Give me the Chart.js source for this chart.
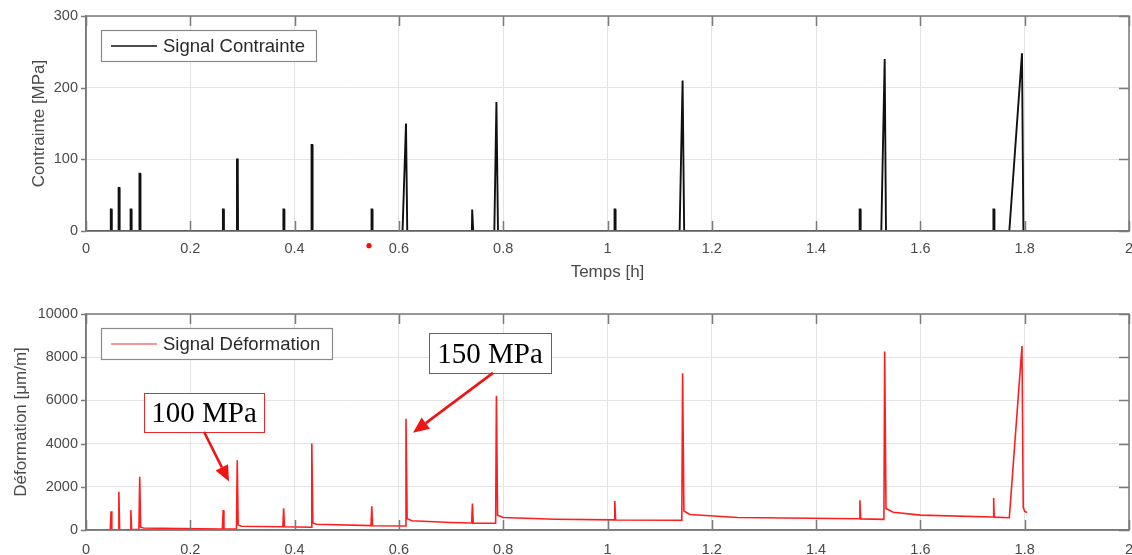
<!DOCTYPE html>
<html>
<head>
<meta charset="utf-8">
<script src="https://cdn.jsdelivr.net/npm/chart.js@4.4.1/dist/chart.umd.min.js"></script>
<style>
  html, body { margin:0; padding:0; background:#fff; }
  #wrap { position:relative; width:1132px; height:555px; overflow:hidden; background:#fff; }
  #c1 { position:absolute; left:0; top:0; }
  #c2 { position:absolute; left:0; top:290px; }
</style>
</head>
<body>
<div id="wrap">
  <canvas id="c1" width="1132" height="290"></canvas>
  <canvas id="c2" width="1132" height="265"></canvas>
</div>
<script>
// ---------- DATA ----------
const xTicks = [0, 0.2, 0.4, 0.6, 0.8, 1, 1.2, 1.4, 1.6, 1.8, 2];
const stressTicks = [0, 100, 200, 300];
const strainTicks = [0, 2000, 4000, 6000, 8000, 10000];

// Stress signal (top) – polyline vertices [h] / [MPa]
const stressTime = [
  0, 0.047, 0.0475, 0.049, 0.0495,
  0.062, 0.0625, 0.064, 0.0645,
  0.085, 0.0855, 0.087, 0.0875,
  0.102, 0.1025, 0.104, 0.1045,
  0.262, 0.2625, 0.264, 0.2645,
  0.289, 0.2895, 0.291, 0.2915,
  0.378, 0.3785, 0.380, 0.3805,
  0.432, 0.4325, 0.434, 0.4345,
  0.547, 0.5475, 0.549, 0.5495,
  0.607, 0.6136, 0.616,
  0.740, 0.7405, 0.742, 0.7425,
  0.783, 0.787, 0.790,
  1.013, 1.0135, 1.015, 1.0155,
  1.1383, 1.144, 1.147,
  1.483, 1.4835, 1.485, 1.4855,
  1.525, 1.5315, 1.534,
  1.7395, 1.740, 1.7415, 1.742,
  1.7705, 1.7948, 1.7975, 1.805
];
const stressValue = [
  0, 0, 30, 30, 0,
  0, 60, 60, 0,
  0, 30, 30, 0,
  0, 80, 80, 0,
  0, 30, 30, 0,
  0, 100, 100, 0,
  0, 30, 30, 0,
  0, 120, 120, 0,
  0, 30, 30, 0,
  0, 150, 0,
  0, 30, 30, 0,
  0, 180, 0,
  0, 30, 30, 0,
  0, 210, 0,
  0, 30, 30, 0,
  0, 240, 0,
  0, 30, 30, 0,
  0, 248, 0, 0
];

// Strain signal (bottom) – polyline vertices [h] / [µm/m]
const strainTime = [
  0, 0.0465, 0.048, 0.0495,
  0.0615, 0.063, 0.0645,
  0.0845, 0.086, 0.0875,
  0.1015, 0.103, 0.1048, 0.110, 0.180,
  0.2615, 0.263, 0.2645,
  0.2885, 0.290, 0.2918, 0.298,
  0.3775, 0.379, 0.3805,
  0.4315, 0.433, 0.435, 0.442,
  0.5465, 0.548, 0.5495,
  0.612, 0.6136, 0.6158, 0.625, 0.700,
  0.7395, 0.741, 0.7425,
  0.7855, 0.787, 0.7892, 0.800, 0.900,
  1.0125, 1.014, 1.0155,
  1.1425, 1.144, 1.1465, 1.158, 1.250,
  1.4825, 1.484, 1.4855,
  1.530, 1.5315, 1.534, 1.548, 1.600,
  1.7395, 1.7405, 1.7415,
  1.7705, 1.7948, 1.7972, 1.800, 1.8045
];
const strainValue = [
  0, 0, 870, 10,
  10, 1770, 15,
  15, 920, 20,
  20, 2460, 130, 90, 65,
  45, 920, 45,
  45, 3230, 230, 175,
  150, 1000, 150,
  125, 4000, 330, 265,
  205, 1100, 200,
  185, 5150, 520, 430, 350,
  325, 1230, 320,
  310, 6215, 680, 580, 500,
  470, 1340, 465,
  450, 7260, 880, 720, 580,
  520, 1380, 515,
  490, 8260, 1000, 820, 690,
  600, 1480, 595,
  570, 8520, 1050, 860, 810
];

// stray red marker under the top axis
const markerTime = [0.5427];
const markerValue = [-20.5];

// legend / annotation texts
const stressLabel = 'Signal Contrainte';
const strainLabel = 'Signal Déformation';
const annotationLabels = ['100 MPa', '150 MPa'];

// ---------- HELPERS ----------
const toXY = (xs, ys) => xs.map((x, i) => ({x: x, y: ys[i]}));
const fmtX = v => String(Math.round(v * 10) / 10);
const TICK_FONT = {family: '"Liberation Sans", Arial, sans-serif', size: 14.5};
const TITLE_FONT = {family: '"Liberation Sans", Arial, sans-serif', size: 17};
const TEXT_COL = '#4a4a4a';
const GRID_COL = '#e4e4e4';
const AXIS_COL = '#7a7a7a';

const framePlugin = {
  id: 'frame',
  afterDraw(chart) {
    const {ctx, chartArea: a, scales: {x, y}} = chart;
    ctx.save();
    ctx.strokeStyle = AXIS_COL;
    ctx.lineWidth = 1.5;
    ctx.strokeRect(a.left, a.top, a.right - a.left, a.bottom - a.top);
    ctx.beginPath();
    x.ticks.forEach(t => {
      const px = Math.round(x.getPixelForValue(t.value)) + 0.5;
      ctx.moveTo(px, a.bottom); ctx.lineTo(px, a.bottom - 10);
      ctx.moveTo(px, a.top); ctx.lineTo(px, a.top + 10);
    });
    y.ticks.forEach(t => {
      const py = Math.round(y.getPixelForValue(t.value)) + 0.5;
      ctx.moveTo(a.left - 5, py); ctx.lineTo(a.left, py);
      ctx.moveTo(a.right, py); ctx.lineTo(a.right - 10, py);
    });
    ctx.stroke();
    ctx.restore();
  }
};

const markerPlugin = {
  id: 'marker',
  afterDraw(chart, args, opts) {
    if (!opts.xs) return;
    const {ctx, scales: {x, y}} = chart;
    ctx.save();
    ctx.fillStyle = '#f01010';
    opts.xs.forEach((v, i) => {
      ctx.beginPath();
      ctx.arc(x.getPixelForValue(v), y.getPixelForValue(opts.ys[i]), 2.6, 0, Math.PI * 2);
      ctx.fill();
    });
    ctx.restore();
  }
};

const boxLegendPlugin = {
  id: 'boxLegend',
  afterDraw(chart, args, opts) {
    const {ctx, chartArea: a} = chart;
    const l = a.left + 15, t = a.top + 14, w = opts.width, h = 31;
    ctx.save();
    ctx.fillStyle = '#fff';
    ctx.fillRect(l, t, w, h);
    ctx.strokeStyle = '#8a8a8a';
    ctx.lineWidth = 1.2;
    ctx.strokeRect(l + 0.5, t + 0.5, w, h);
    ctx.strokeStyle = opts.lineColor;
    ctx.lineWidth = 1.6;
    ctx.beginPath();
    ctx.moveTo(l + 10, t + h / 2 + 0.5);
    ctx.lineTo(l + 56, t + h / 2 + 0.5);
    ctx.stroke();
    ctx.fillStyle = '#2a2a2a';
    ctx.font = '18.5px "Liberation Sans", Arial, sans-serif';
    ctx.textBaseline = 'middle';
    ctx.textAlign = 'left';
    ctx.fillText(opts.text, l + 62, t + h / 2 + 1);
    ctx.restore();
  }
};

const calloutPlugin = {
  id: 'callout',
  afterDraw(chart, args, opts) {
    const {ctx, scales: {x, y}} = chart;
    ctx.save();
    (opts.items || []).forEach(it => {
      const l = x.getPixelForValue(it.box[0]), r = x.getPixelForValue(it.box[1]);
      const t = y.getPixelForValue(it.box[2]), b = y.getPixelForValue(it.box[3]);
      ctx.fillStyle = '#fff';
      ctx.fillRect(l, t, r - l, b - t);
      ctx.strokeStyle = '#e8282a';
      ctx.lineWidth = 1;
      ctx.strokeRect(Math.round(l) + 0.5, Math.round(t) + 0.5, Math.round(r - l), Math.round(b - t));
      ctx.fillStyle = '#000';
      ctx.font = '29px "Liberation Serif", "Times New Roman", serif';
      ctx.textAlign = 'center';
      ctx.textBaseline = 'middle';
      ctx.fillText(it.text, (l + r) / 2, (t + b) / 2 + 2);
      // arrow
      const sx = x.getPixelForValue(it.from[0]), sy = y.getPixelForValue(it.from[1]);
      const ex = x.getPixelForValue(it.to[0]), ey = y.getPixelForValue(it.to[1]);
      const ang = Math.atan2(ey - sy, ex - sx);
      const hl = 16, hw = 7;
      const bx = ex - hl * Math.cos(ang), by = ey - hl * Math.sin(ang);
      ctx.strokeStyle = '#ee1515';
      ctx.fillStyle = '#ee1515';
      ctx.lineWidth = 2.6;
      ctx.beginPath();
      ctx.moveTo(sx, sy); ctx.lineTo(bx, by);
      ctx.stroke();
      ctx.beginPath();
      ctx.moveTo(ex, ey);
      ctx.lineTo(bx + hw * Math.sin(ang), by - hw * Math.cos(ang));
      ctx.lineTo(bx - hw * Math.sin(ang), by + hw * Math.cos(ang));
      ctx.closePath();
      ctx.fill();
    });
    ctx.restore();
  }
};

function xScale(withTitle, labelPad, height) {
  return {
    type: 'linear', min: 0, max: 2,
    afterBuildTicks: s => { s.ticks = xTicks.map(v => ({value: v})); },
    ticks: {callback: v => fmtX(v), font: TICK_FONT, color: TEXT_COL, padding: labelPad, maxRotation: 0, autoSkip: false},
    grid: {color: GRID_COL, lineWidth: 1, drawTicks: false},
    border: {color: AXIS_COL, width: 1.5},
    title: withTitle ? {display: true, text: 'Temps [h]', font: TITLE_FONT, color: TEXT_COL, padding: {top: 0, bottom: 7}} : {display: false},
    afterFit: s => { s.height = height; s.paddingRight = 3; s.paddingLeft = 0; }
  };
}
function yScale(min, max, ticks, title, titlePad) {
  return {
    type: 'linear', min: min, max: max,
    afterBuildTicks: s => { s.ticks = ticks.map(v => ({value: v})); },
    ticks: {callback: v => String(v), font: TICK_FONT, color: TEXT_COL, padding: 8},
    grid: {color: GRID_COL, lineWidth: 1, drawTicks: false},
    border: {color: AXIS_COL, width: 1.5},
    title: {display: true, text: title, font: TITLE_FONT, color: TEXT_COL, padding: {top: titlePad, bottom: 0}},
    afterFit: s => { s.width = 86; s.paddingTop = 0; s.paddingBottom = 0; }
  };
}

// ---------- TOP CHART ----------
new Chart(document.getElementById('c1'), {
  type: 'scatter',
  data: {
    datasets: [
      {
        label: stressLabel,
        data: toXY(stressTime, stressValue),
        showLine: true, borderColor: '#111', borderWidth: 1.9,
        pointRadius: 0, tension: 0, fill: false
      }
    ]
  },
  options: {
    responsive: false, animation: false, events: [],
    layout: {padding: {top: 16, right: 3, left: 0, bottom: 0}},
    plugins: {
      legend: {display: false}, tooltip: {enabled: false},
      boxLegend: {text: stressLabel, lineColor: '#111', width: 215},
      marker: {xs: markerTime, ys: markerValue}
    },
    scales: {
      x: xScale(true, 9, 59),
      y: yScale(0, 300, stressTicks, 'Contrainte [MPa]', 29)
    }
  },
  plugins: [framePlugin, boxLegendPlugin, markerPlugin]
});

// ---------- BOTTOM CHART ----------
new Chart(document.getElementById('c2'), {
  type: 'scatter',
  data: {
    datasets: [
      {
        label: strainLabel,
        data: toXY(strainTime, strainValue),
        showLine: true, borderColor: '#ff1e1e', borderWidth: 1.6,
        pointRadius: 0, tension: 0, fill: false
      }
    ]
  },
  options: {
    responsive: false, animation: false, events: [],
    layout: {padding: {top: 24, right: 3, left: 0, bottom: 0}},
    plugins: {
      legend: {display: false}, tooltip: {enabled: false},
      boxLegend: {text: strainLabel, lineColor: 'rgba(240,70,70,0.75)', width: 231},
      callout: {
        items: [
          {text: annotationLabels[0], box: [0.1112, 0.3413, 6351, 4550], from: [0.2263, 4550], to: [0.2742, 2240]},
          {text: annotationLabels[1], box: [0.6577, 0.8917, 9122, 7275], from: [0.7805, 7275], to: [0.627, 4503]}
        ]
      }
    },
    scales: {
      x: xScale(false, 11, 25),
      y: yScale(0, 10000, strainTicks, 'Déformation [μm/m]', 11)
    }
  },
  plugins: [framePlugin, boxLegendPlugin, calloutPlugin]
});
</script>
</body>
</html>
